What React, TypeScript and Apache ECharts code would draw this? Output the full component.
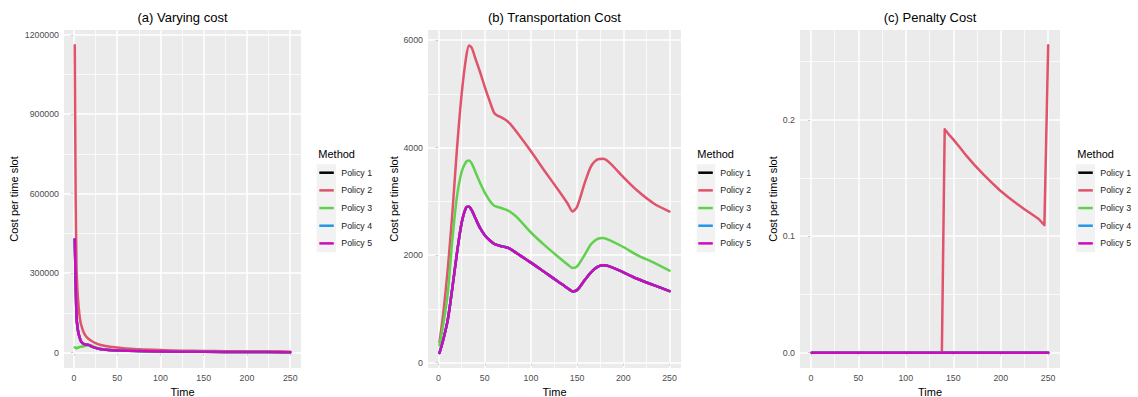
import React, { useEffect, useRef } from "react";
import * as echarts from "echarts";

const policyNames = ["Policy 1", "Policy 2", "Policy 3", "Policy 4", "Policy 5"];
const policyColors = ["#000000", "#DF536B", "#61D04F", "#2297E6", "#CD0BBC"];
const panelTitles = ["(a) Varying cost", "(b) Transportation Cost", "(c) Penalty Cost"];

const xTicks = [0, 50, 100, 150, 200, 250];
const xMinor = [25, 75, 125, 175, 225];

// ---- Panel (a): Varying cost ----
const aTimeP2 = [1, 2, 3, 4, 5, 6, 7, 8, 10, 12, 15, 20, 25, 30, 40, 50, 60, 75, 100, 125, 150, 175, 200, 225, 250];
const aCostP2 = [1160000, 600000, 330000, 240000, 192000, 155000, 128000, 110000, 88000, 72000, 58000, 45000, 36000, 30000, 23000, 19000, 16000, 12500, 9500, 7500, 6200, 5300, 4600, 4100, 3600];
const aTimeP5 = [1, 2, 3, 4, 5, 6, 8, 10, 12, 14, 16, 18, 20, 25, 30, 40, 50, 75, 100, 150, 200, 250];
const aCostP5 = [428000, 270000, 135000, 100000, 78000, 64000, 44000, 36000, 32000, 30000, 30000, 28000, 24000, 18000, 14000, 10000, 8000, 5800, 4400, 3000, 2200, 1800];
const aTimeP3 = [1, 2, 3, 4, 5, 6, 8, 10, 12, 15, 18, 20, 25, 30, 40, 50, 75, 100, 150, 200, 250];
const aCostP3 = [20000, 18000, 16000, 19000, 18000, 21000, 22000, 23000, 25000, 27000, 28000, 27000, 20000, 15000, 10500, 8200, 5900, 4500, 3100, 2300, 1850];
const aYTicks = [0, 300000, 600000, 900000, 1200000];
const aYMinor = [150000, 450000, 750000, 1050000];

// ---- Panel (b): Transportation cost ----
const bTime = [1, 5, 10, 15, 20, 25, 30, 33, 36, 40, 45, 50, 55, 60, 63, 67, 72, 77, 85, 100, 115, 130, 140, 145, 150, 158, 165, 172, 178, 185, 200, 215, 233, 250];
const bCostP2 = [380, 900, 1750, 2800, 4000, 5000, 5700, 5900, 5850, 5650, 5400, 5130, 4880, 4650, 4600, 4570, 4520, 4450, 4280, 3930, 3560, 3200, 2950, 2810, 2900, 3330, 3650, 3780, 3790, 3720, 3450, 3200, 2960, 2810];
const bCostP3 = [320, 700, 1300, 2300, 3100, 3550, 3740, 3760, 3700, 3540, 3340, 3160, 3020, 2920, 2900, 2880, 2850, 2810, 2700, 2420, 2180, 1960, 1820, 1760, 1790, 2000, 2200, 2300, 2320, 2280, 2150, 2000, 1860, 1710];
const bCostP5 = [180, 420, 800, 1400, 2050, 2600, 2890, 2900, 2830, 2680, 2500, 2370, 2280, 2210, 2190, 2170, 2150, 2120, 2030, 1860, 1680, 1500, 1380, 1325, 1350, 1530, 1680, 1780, 1810, 1790, 1680, 1560, 1440, 1330];
const bYTicks = [0, 2000, 4000, 6000];
const bYMinor = [1000, 3000, 5000];

// ---- Panel (c): Penalty cost ----
const cTimeP2 = [1, 138, 141, 145, 150, 157, 164, 172, 182, 190, 199, 208, 217, 225, 234, 240, 246, 250];
const cCostP2 = [0, 0, 0.192, 0.1878, 0.1832, 0.1763, 0.169, 0.1615, 0.153, 0.1465, 0.1395, 0.1335, 0.128, 0.1232, 0.1182, 0.1148, 0.1095, 0.264];
const cTimeZero = [1, 250];
const cCostZero = [0, 0];
const cYTicks = [0, 0.1, 0.2];
const cYMinor = [0.05, 0.15, 0.25];

const FONT = "'Liberation Sans', Arial, Helvetica, sans-serif";

const zip = (t: number[], v: number[]) => t.map((x, i) => [x, v[i]]);

export default function App() {
  const ref = useRef<HTMLDivElement>(null);
  useEffect(() => {
    document.body.style.margin = "0";
    if (!ref.current) return;
    const chart = echarts.init(ref.current, null, { renderer: "svg" });

    const grids = [
      { left: 64, top: 30, width: 237, height: 338 },
      { left: 428, top: 30, width: 253, height: 338 },
      { left: 800, top: 30, width: 260, height: 338 },
    ];
    const yRanges = [
      { min: -58000, max: 1218000, ticks: aYTicks, minor: aYMinor, fmt: (v: number) => String(v), gap: 44.5 },
      { min: -100, max: 6186, ticks: bYTicks, minor: bYMinor, fmt: (v: number) => String(v), gap: 28.5 },
      { min: -0.0132, max: 0.2772, ticks: cYTicks, minor: cYMinor, fmt: (v: number) => v.toFixed(1), gap: 21 },
    ];
    const legendLeft = [319.3, 698.3, 1078.3];
    const keyBg = [
      { x: 316.7, w: 19.3 },
      { x: 696.7, w: 18.5 },
      { x: 1076, w: 19 },
    ];

    const panelData: number[][][][] = [
      [
        zip(aTimeP5, aCostP5),
        zip(aTimeP2, aCostP2),
        zip(aTimeP3, aCostP3),
        zip(aTimeP5, aCostP5),
        zip(aTimeP5, aCostP5),
      ],
      [
        zip(bTime, bCostP5),
        zip(bTime, bCostP2),
        zip(bTime, bCostP3),
        zip(bTime, bCostP5),
        zip(bTime, bCostP5),
      ],
      [
        zip(cTimeZero, cCostZero),
        zip(cTimeP2, cCostP2),
        zip(cTimeZero, cCostZero),
        zip(cTimeZero, cCostZero),
        zip(cTimeZero, cCostZero),
      ],
    ];

    const series: any[] = [];
    for (let g = 0; g < 3; g++) {
      const major = { lineStyle: { color: "#FFFFFF", width: 1.5, type: "solid" } };
      const minor = { lineStyle: { color: "#FFFFFF", width: 0.75, type: "solid" } };
      series.push({
        type: "line",
        name: "grid" + g,
        xAxisIndex: g,
        yAxisIndex: g,
        data: [],
        z: 1,
        silent: true,
        markLine: {
          z: 1,
          silent: true,
          symbol: ["none", "none"],
          label: { show: false },
          emphasis: { disabled: true },
          animation: false,
          data: [
            ...xMinor.map((v) => ({ xAxis: v, ...minor })),
            ...yRanges[g].minor.map((v) => ({ yAxis: v, ...minor })),
            ...xTicks.map((v) => ({ xAxis: v, ...major })),
            ...yRanges[g].ticks.map((v) => ({ yAxis: v, ...major })),
          ],
        },
      });
      for (let p = 0; p < 5; p++) {
        series.push({
          type: "line",
          name: policyNames[p],
          xAxisIndex: g,
          yAxisIndex: g,
          data: panelData[g][p],
          showSymbol: false,
          symbol: "none",
          smooth: g === 2 ? false : 0.25,
          color: policyColors[p],
          lineStyle: { color: policyColors[p], width: 2.5, join: "round", cap: "round" },
          itemStyle: { color: policyColors[p] },
          z: 10 + p,
          emphasis: { disabled: true },
        });
      }
    }

    const graphic: any[] = [];
    for (let g = 0; g < 3; g++) {
      graphic.push({
        type: "text",
        x: grids[g].left + grids[g].width / 2,
        y: 17,
        style: { text: panelTitles[g], font: `13px ${FONT}`, fill: "#000", textAlign: "center", textVerticalAlign: "middle" },
      });
      graphic.push({
        type: "rect",
        shape: { x: keyBg[g].x, y: 164.3, width: keyBg[g].w, height: 88 },
        style: { fill: "#F2F2F2" },
        z: -1,
      });
      graphic.push({
        type: "text",
        x: legendLeft[g] - 1,
        y: 154,
        style: { text: "Method", font: `11px ${FONT}`, fill: "#000", textAlign: "left", textVerticalAlign: "middle" },
      });
    }

    const option: any = {
      animation: false,
      backgroundColor: "#FFFFFF",
      textStyle: { fontFamily: FONT },
      grid: grids.map((r) => ({
        ...r,
        show: true,
        backgroundColor: "#EBEBEB",
        borderWidth: 0,
        containLabel: false,
        outerBoundsMode: "none",
      })),
      xAxis: grids.map((_, g) => ({
        type: "value",
        gridIndex: g,
        min: -11.45,
        max: 262.45,
        name: "Time",
        nameLocation: "middle",
        nameGap: 15,
        nameTextStyle: { fontSize: 11, color: "#000", fontFamily: FONT },
        axisLine: { show: false },
        axisTick: { show: true, length: 3, customValues: xTicks, lineStyle: { color: "#333333", width: 1 } },
        axisLabel: { show: true, customValues: xTicks, margin: 5, fontSize: 8.8, color: "#4D4D4D", fontFamily: FONT, formatter: (v: number) => String(v) },
        splitLine: { show: false },
      })),
      yAxis: grids.map((_, g) => ({
        type: "value",
        gridIndex: g,
        min: yRanges[g].min,
        max: yRanges[g].max,
        name: "Cost per time slot",
        nameLocation: "middle",
        nameRotate: 90,
        nameGap: yRanges[g].gap,
        nameTextStyle: { fontSize: 11, color: "#000", fontFamily: FONT },
        axisLine: { show: false },
        axisTick: { show: true, length: 3, customValues: yRanges[g].ticks, lineStyle: { color: "#333333", width: 1 } },
        axisLabel: { show: true, customValues: yRanges[g].ticks, margin: 5, fontSize: 8.8, color: "#4D4D4D", fontFamily: FONT, formatter: yRanges[g].fmt },
        splitLine: { show: false },
      })),
      legend: [0, 1, 2].map((g) => ({
        data: policyNames,
        orient: "vertical",
        left: legendLeft[g],
        top: 166.7,
        padding: 0,
        itemGap: 5.67,
        itemWidth: 14.5,
        itemHeight: 2.5,
        icon: "rect",
        selectedMode: false,
        itemStyle: { borderWidth: 0 },
        textStyle: { fontSize: 8.8, color: "#1A1A1A", lineHeight: 12, padding: [0, 0, 0, 2.5], fontFamily: FONT },
      })),
      graphic,
      series,
    };

    chart.setOption(option);
    return () => chart.dispose();
  }, []);
  return <div ref={ref} style={{ width: 1138, height: 397 }} />;
}
